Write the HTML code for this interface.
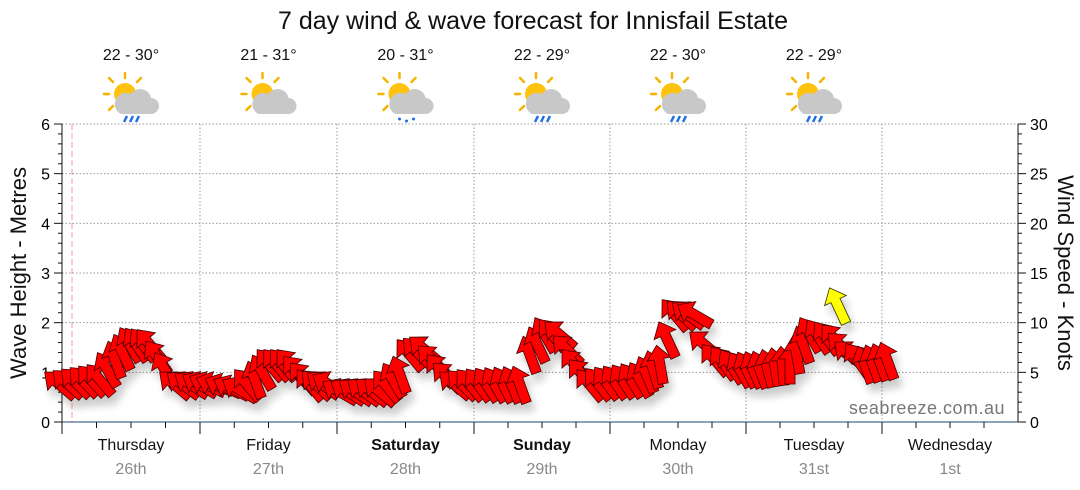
<!DOCTYPE html>
<html><head><meta charset="utf-8"><style>
body{margin:0;background:#fff;}
svg{display:block;font-family:"Liberation Sans",Arial,sans-serif;}
</style></head><body>
<svg id="s" width="1080" height="490" viewBox="0 0 1080 490" xmlns="http://www.w3.org/2000/svg">
<defs>
<filter id="sh" x="-50%" y="-50%" width="200%" height="200%"><feGaussianBlur in="SourceAlpha" stdDeviation="4"/><feOffset dx="4" dy="8"/><feComponentTransfer><feFuncA type="linear" slope="0.2"/></feComponentTransfer><feMerge><feMergeNode/><feMergeNode in="SourceGraphic"/></feMerge></filter>
<g id="wx">
<g stroke="#f5b400" stroke-width="2.5" stroke-linecap="round">
<line x1="-8" y1="-22" x2="-8" y2="-27"/><line x1="4" y1="-18" x2="8" y2="-22"/><line x1="-20" y1="-18" x2="-24" y2="-22"/><line x1="-24" y1="-6" x2="-29" y2="-6"/><line x1="-20" y1="6" x2="-24" y2="10"/>
</g>
<circle cx="-8" cy="-6" r="11" fill="#ffc20e"/>
<path d="M-12 14 h30 a8 8 0 0 0 0-16 a11 11 0 0 0-20-4 a8 8 0 0 0-10 20z" fill="#c8c8c8"/>
</g>
</defs>
<text x="533" y="29" font-size="25" text-anchor="middle" fill="#111">7 day wind &amp; wave forecast for Innisfail Estate</text>
<g id="grid"></g>
<g id="arrows" filter="url(#sh)"></g>
<text x="1005" y="414" font-size="18" fill="#777" text-anchor="end" letter-spacing="0.5">seabreeze.com.au</text>
<text transform="translate(26,273) rotate(-90)" font-size="22" text-anchor="middle" fill="#111">Wave Height - Metres</text>
<text transform="translate(1058,273) rotate(90)" font-size="22" text-anchor="middle" fill="#111">Wind Speed - Knots</text>
</svg>
<script>
const svg=document.getElementById('s'),g=document.getElementById('grid'),A=document.getElementById('arrows');
let h='';
const L=62,R=1018,Y0=422,Y6=124,py=(Y0-Y6)/6;
for(let i=1;i<=6;i++){let y=Y0-i*py;h+=`<line x1="${L}" x2="${R}" y1="${y}" y2="${y}" stroke="#999" stroke-dasharray="1.5,2"/>`;}
const days=[62,200,337,474,610,746,882,1018];
for(let i=1;i<7;i++)h+=`<line x1="${days[i]}" x2="${days[i]}" y1="${Y6}" y2="${Y0}" stroke="#999" stroke-dasharray="1.5,2"/>`;
h+=`<line x1="72" x2="72" y1="${Y6}" y2="${Y0}" stroke="#f99" stroke-dasharray="6,3"/>`;
h+=`<line x1="${L}" x2="${L}" y1="${Y6}" y2="${Y0+12}" stroke="#111"/><line x1="${R}" x2="${R}" y1="${Y6}" y2="${Y0}" stroke="#111"/>`;
h+=`<line x1="${L}" x2="${R}" y1="${Y0}" y2="${Y0}" stroke="#1d4a6e"/>`;
for(let i=0;i<=30;i++){let y=Y0-i*py/5;let big=i%5==0;h+=`<line x1="${L}" x2="${L-(big?8:4)}" y1="${y}" y2="${y}" stroke="#111"/>`;if(big)h+=`<text x="${L-12}" y="${y+6}" font-size="16" text-anchor="end">${i/5}</text>`;}
for(let i=0;i<=30;i++){let y=Y0-i*py/5;let big=i%5==0;h+=`<line x1="${R}" x2="${R+(big?8:4)}" y1="${y}" y2="${y}" stroke="#111"/>`;if(big)h+=`<text x="${R+12}" y="${y+6}" font-size="16">${i}</text>`;}
const names=['Thursday','Friday','Saturday','Sunday','Monday','Tuesday','Wednesday'],dates=['26th','27th','28th','29th','30th','31st','1st'];
for(let d=0;d<7;d++){let a=days[d],b=days[d+1],w=b-a;
 for(let k=0;k<4;k++){let x=a+k*w/4;h+=`<line x1="${x}" x2="${x}" y1="${Y0}" y2="${Y0+(k==0?12:6)}" stroke="#111"/>`;}
 let c=(a+b)/2;let bold=(d==2||d==3)?' font-weight="bold"':'';
 h+=`<text x="${c}" y="450" font-size="16" text-anchor="middle" fill="#111"${bold}>${names[d]}</text><text x="${c}" y="474" font-size="16" text-anchor="middle" fill="#888">${dates[d]}</text>`;
 if(d<6){h+=`<text x="${c}" y="60" font-size="16" text-anchor="middle" fill="#111">${['22 - 30°','21 - 31°','20 - 31°','22 - 29°','22 - 30°','22 - 29°'][d]}</text>`;
 h+=`<use href="#wx" x="${c+2}" y="100"/>`;
 if(d!=1){if(d==2)h+=`<g fill="#1e6fe8"><circle cx="${c-6}" cy="119" r="1.5"/><circle cx="${c+1}" cy="121" r="1.5"/><circle cx="${c+8}" cy="119" r="1.5"/></g>`;
 else for(let j=0;j<3;j++)h+=`<line x1="${c-4+j*6}" x2="${c-7+j*6}" y1="116" y2="122" stroke="#1e6fe8" stroke-width="2.5"/>`;}}
}
g.innerHTML=h;
const P=[[60,385,-50],[100,380,-40],[115,360,-20],[130,345,-30],[150,345,-40],[165,370,-30],[175,385,-50],[200,385,-60],
[215,385,-70],[240,390,-60],[255,380,-20],[270,365,-40],[290,365,-40],[310,385,-40],[330,385,-60],
[340,392,-60],[380,392,-50],[400,375,-20],[410,355,-40],[425,350,-50],[440,370,-40],[455,385,-50],
[470,385,-40],[520,385,-20],[530,355,-20],[545,335,-30],[560,335,-50],[575,365,-40],[590,385,-40],
[640,380,-30],[660,365,-10],[675,315,-40],[695,315,-60],[705,345,-50],[715,360,-40],[740,370,-30],
[760,370,-20],[790,365,0],[810,335,-30],[835,340,-40],[850,355,-50],[865,365,-20],[895,360,-20]];
const shape='M0,-20 L12,-6 L5,-6 L5,19 L-5,19 L-5,-6 L-12,-6 Z';
let a='';
for(let i=0;i<P.length-1;i++){let [x1,y1,r1]=P[i],[x2,y2,r2]=P[i+1];let n=Math.max(1,Math.round((x2-x1)/8));
 for(let k=0;k<n;k++){let t=k/n;a+=`<path d="${shape}" transform="translate(${x1+(x2-x1)*t},${y1+(y2-y1)*t}) rotate(${r1+(r2-r1)*t})" fill="#f00" stroke="#400" stroke-width="0.8"/>`;}}
a+=`<path d="${shape}" transform="translate(838,306) rotate(-25)" fill="#ff0" stroke="#330" stroke-width="0.8"/>`;
A.innerHTML=a;
</script>
</body></html>
